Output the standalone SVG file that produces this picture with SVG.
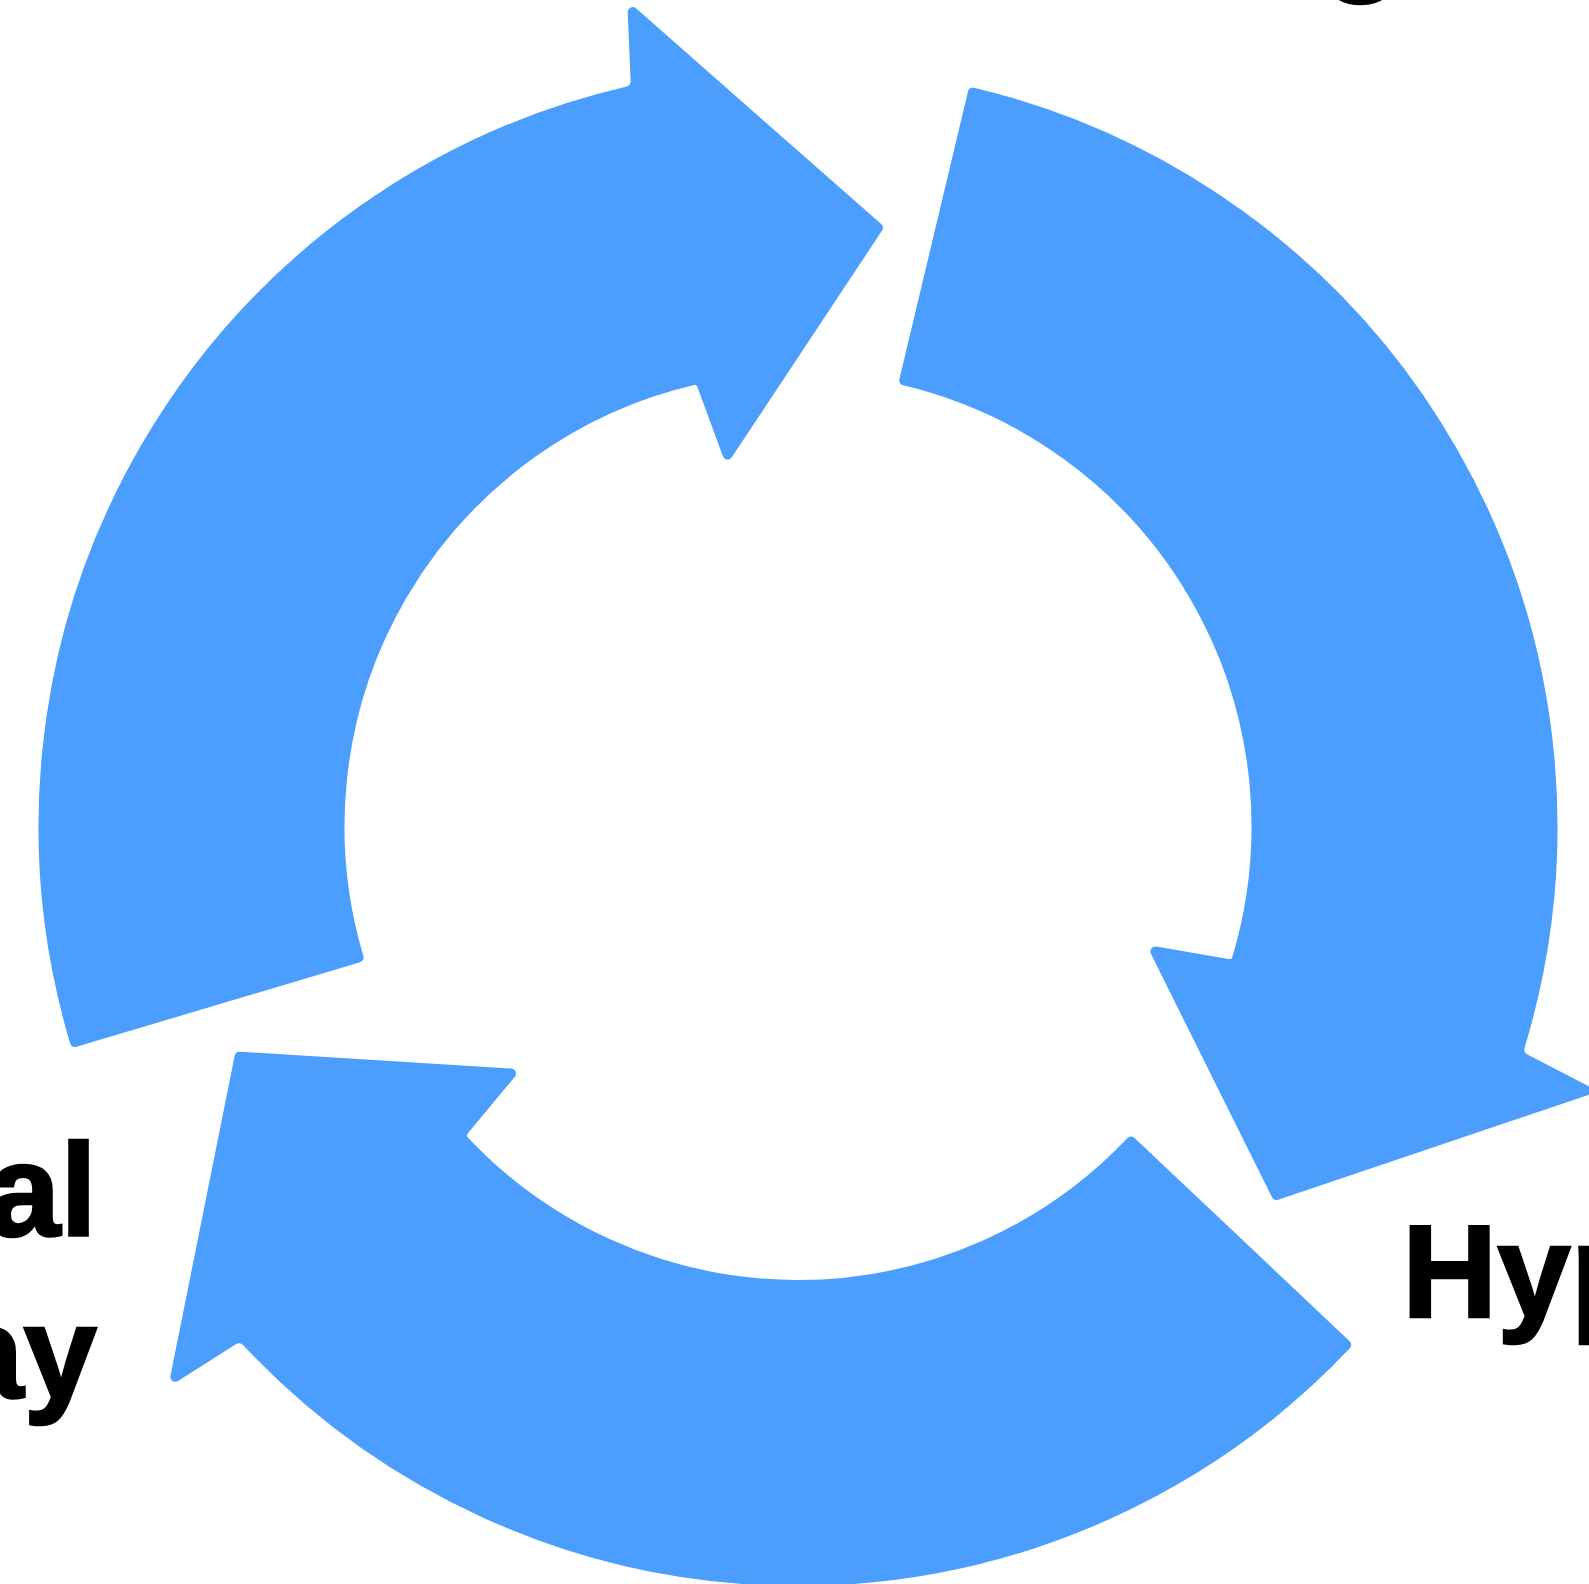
<svg xmlns="http://www.w3.org/2000/svg" width="1589" height="1584" viewBox="0 0 1589 1584">
  <style>
    .arrow { fill: #4B9DFE; stroke: #4B9DFE; stroke-width: 10; stroke-linejoin: round; }
    .label { font-family: "Liberation Sans", Arial, sans-serif; font-weight: bold; font-size: 132px; fill: #000000; stroke: #000000; stroke-width: 2.5; }
  </style>
  <defs>
    <!-- one curved arrow of the cycle; centre (798, 826.5), band radii 458.5..754.5,
         head base near 257.6deg, tip near 277.6deg; notches slightly rounded -->
    <path id="cycle-arrow" class="arrow"
          d="M 74.95 1042.05
             A 754.5 754.5 0 0 1 626.99 91.63
             Q 635.98 89.60 635.65 80.60
             L 632.70 12.10
             L 877.89 227.80
             L 727.60 454.50
             L 702.74 387.11
             Q 699.54 378.70 694.08 379.93
             A 458.5 458.5 0 0 0 358.61 957.49 Z"/>
  </defs>
  <rect width="1589" height="1584" fill="#FFFFFF"/>

  <g id="connectors">
    <g id="arrow-left"><use href="#cycle-arrow"/></g>
    <g id="arrow-right"><use href="#cycle-arrow" transform="rotate(120 798 826.5)"/></g>
    <g id="arrow-bottom"><use href="#cycle-arrow" transform="rotate(240 798 826.5)"/></g>
  </g>

  <g id="label-top"><text class="label" x="1322" y="-24">g</text></g>
  <g id="label-left">
    <text class="label" x="97" y="1236" text-anchor="end">al</text>
    <text class="label" x="97" y="1398" text-anchor="end">ay</text>
  </g>
  <g id="label-right"><text class="label" x="1402" y="1317">Hyp</text></g>
</svg>
